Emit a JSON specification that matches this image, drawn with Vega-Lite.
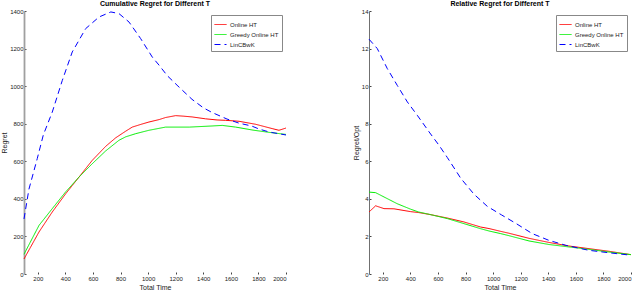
{
  "$schema": "https://vega.github.io/schema/vega-lite/v6.json",
  "background": "white",
  "padding": {"left": 0, "top": 0, "right": 1, "bottom": 0},
  "datasets": {
    "cum": [
      {"T": 100, "method": "Online HT", "v": 80},
      {"T": 209, "method": "Online HT", "v": 224},
      {"T": 305, "method": "Online HT", "v": 330},
      {"T": 402, "method": "Online HT", "v": 427},
      {"T": 499, "method": "Online HT", "v": 516},
      {"T": 595, "method": "Online HT", "v": 605},
      {"T": 693, "method": "Online HT", "v": 680},
      {"T": 765, "method": "Online HT", "v": 725},
      {"T": 837, "method": "Online HT", "v": 760},
      {"T": 885, "method": "Online HT", "v": 782},
      {"T": 950, "method": "Online HT", "v": 797},
      {"T": 1006, "method": "Online HT", "v": 809},
      {"T": 1080, "method": "Online HT", "v": 822},
      {"T": 1127, "method": "Online HT", "v": 833},
      {"T": 1200, "method": "Online HT", "v": 843},
      {"T": 1260, "method": "Online HT", "v": 840},
      {"T": 1320, "method": "Online HT", "v": 836},
      {"T": 1417, "method": "Online HT", "v": 826},
      {"T": 1500, "method": "Online HT", "v": 820},
      {"T": 1562, "method": "Online HT", "v": 818},
      {"T": 1659, "method": "Online HT", "v": 813},
      {"T": 1780, "method": "Online HT", "v": 797},
      {"T": 1900, "method": "Online HT", "v": 774},
      {"T": 1949, "method": "Online HT", "v": 765},
      {"T": 2000, "method": "Online HT", "v": 777},
      {"T": 100, "method": "Greedy Online HT", "v": 105},
      {"T": 209, "method": "Greedy Online HT", "v": 259},
      {"T": 305, "method": "Greedy Online HT", "v": 348},
      {"T": 402, "method": "Greedy Online HT", "v": 437},
      {"T": 499, "method": "Greedy Online HT", "v": 516},
      {"T": 595, "method": "Greedy Online HT", "v": 587},
      {"T": 692, "method": "Greedy Online HT", "v": 655},
      {"T": 789, "method": "Greedy Online HT", "v": 712},
      {"T": 837, "method": "Greedy Online HT", "v": 730},
      {"T": 910, "method": "Greedy Online HT", "v": 747},
      {"T": 1006, "method": "Greedy Online HT", "v": 765},
      {"T": 1127, "method": "Greedy Online HT", "v": 782},
      {"T": 1300, "method": "Greedy Online HT", "v": 782},
      {"T": 1465, "method": "Greedy Online HT", "v": 788},
      {"T": 1538, "method": "Greedy Online HT", "v": 791},
      {"T": 1635, "method": "Greedy Online HT", "v": 782},
      {"T": 1760, "method": "Greedy Online HT", "v": 766},
      {"T": 1877, "method": "Greedy Online HT", "v": 754},
      {"T": 2000, "method": "Greedy Online HT", "v": 743},
      {"T": 100, "method": "LinCBwK", "v": 293},
      {"T": 136, "method": "LinCBwK", "v": 452},
      {"T": 196, "method": "LinCBwK", "v": 614},
      {"T": 240, "method": "LinCBwK", "v": 740},
      {"T": 305, "method": "LinCBwK", "v": 862},
      {"T": 378, "method": "LinCBwK", "v": 1031},
      {"T": 450, "method": "LinCBwK", "v": 1182},
      {"T": 547, "method": "LinCBwK", "v": 1306},
      {"T": 644, "method": "LinCBwK", "v": 1368},
      {"T": 730, "method": "LinCBwK", "v": 1395},
      {"T": 789, "method": "LinCBwK", "v": 1386},
      {"T": 862, "method": "LinCBwK", "v": 1341},
      {"T": 946, "method": "LinCBwK", "v": 1253},
      {"T": 1030, "method": "LinCBwK", "v": 1155},
      {"T": 1079, "method": "LinCBwK", "v": 1112},
      {"T": 1140, "method": "LinCBwK", "v": 1055},
      {"T": 1210, "method": "LinCBwK", "v": 1005},
      {"T": 1318, "method": "LinCBwK", "v": 930},
      {"T": 1400, "method": "LinCBwK", "v": 885},
      {"T": 1463, "method": "LinCBwK", "v": 860},
      {"T": 1572, "method": "LinCBwK", "v": 825},
      {"T": 1659, "method": "LinCBwK", "v": 803},
      {"T": 1750, "method": "LinCBwK", "v": 788},
      {"T": 1804, "method": "LinCBwK", "v": 772},
      {"T": 1877, "method": "LinCBwK", "v": 756},
      {"T": 2000, "method": "LinCBwK", "v": 740}
    ],
    "rel": [
      {"T": 100, "method": "Online HT", "v": 3.3},
      {"T": 148, "method": "Online HT", "v": 3.63},
      {"T": 209, "method": "Online HT", "v": 3.48},
      {"T": 281, "method": "Online HT", "v": 3.47},
      {"T": 402, "method": "Online HT", "v": 3.32},
      {"T": 460, "method": "Online HT", "v": 3.27},
      {"T": 547, "method": "Online HT", "v": 3.16},
      {"T": 668, "method": "Online HT", "v": 2.98},
      {"T": 789, "method": "Online HT", "v": 2.77},
      {"T": 910, "method": "Online HT", "v": 2.5},
      {"T": 970, "method": "Online HT", "v": 2.42},
      {"T": 1055, "method": "Online HT", "v": 2.27},
      {"T": 1115, "method": "Online HT", "v": 2.17},
      {"T": 1260, "method": "Online HT", "v": 1.9},
      {"T": 1405, "method": "Online HT", "v": 1.68},
      {"T": 1550, "method": "Online HT", "v": 1.49},
      {"T": 1695, "method": "Online HT", "v": 1.35},
      {"T": 1840, "method": "Online HT", "v": 1.21},
      {"T": 2000, "method": "Online HT", "v": 1.03},
      {"T": 100, "method": "Greedy Online HT", "v": 4.36},
      {"T": 148, "method": "Greedy Online HT", "v": 4.33},
      {"T": 209, "method": "Greedy Online HT", "v": 4.1},
      {"T": 305, "method": "Greedy Online HT", "v": 3.74},
      {"T": 402, "method": "Greedy Online HT", "v": 3.45},
      {"T": 460, "method": "Greedy Online HT", "v": 3.3},
      {"T": 523, "method": "Greedy Online HT", "v": 3.2},
      {"T": 668, "method": "Greedy Online HT", "v": 2.95},
      {"T": 789, "method": "Greedy Online HT", "v": 2.68},
      {"T": 910, "method": "Greedy Online HT", "v": 2.41},
      {"T": 970, "method": "Greedy Online HT", "v": 2.29},
      {"T": 1055, "method": "Greedy Online HT", "v": 2.15},
      {"T": 1115, "method": "Greedy Online HT", "v": 2.04},
      {"T": 1260, "method": "Greedy Online HT", "v": 1.76},
      {"T": 1405, "method": "Greedy Online HT", "v": 1.57},
      {"T": 1550, "method": "Greedy Online HT", "v": 1.44},
      {"T": 1695, "method": "Greedy Online HT", "v": 1.31},
      {"T": 1840, "method": "Greedy Online HT", "v": 1.17},
      {"T": 2000, "method": "Greedy Online HT", "v": 1.03},
      {"T": 100, "method": "LinCBwK", "v": 12.5},
      {"T": 160, "method": "LinCBwK", "v": 12.0},
      {"T": 233, "method": "LinCBwK", "v": 10.93},
      {"T": 305, "method": "LinCBwK", "v": 10.04},
      {"T": 378, "method": "LinCBwK", "v": 9.16},
      {"T": 450, "method": "LinCBwK", "v": 8.45},
      {"T": 547, "method": "LinCBwK", "v": 7.45},
      {"T": 608, "method": "LinCBwK", "v": 6.85},
      {"T": 668, "method": "LinCBwK", "v": 6.2},
      {"T": 765, "method": "LinCBwK", "v": 5.1},
      {"T": 861, "method": "LinCBwK", "v": 4.25},
      {"T": 958, "method": "LinCBwK", "v": 3.6},
      {"T": 1060, "method": "LinCBwK", "v": 3.15},
      {"T": 1164, "method": "LinCBwK", "v": 2.7},
      {"T": 1284, "method": "LinCBwK", "v": 2.15},
      {"T": 1405, "method": "LinCBwK", "v": 1.79},
      {"T": 1526, "method": "LinCBwK", "v": 1.53},
      {"T": 1695, "method": "LinCBwK", "v": 1.26},
      {"T": 1840, "method": "LinCBwK", "v": 1.13},
      {"T": 2000, "method": "LinCBwK", "v": 1.0}
    ]
  },
  "spacing": 83,
  "bounds": "flush",
  "hconcat": [
    {
      "width": 262,
      "height": 263,
      "title": "Cumulative Regret for Different T",
      "data": {"name": "cum"},
      "mark": {"type": "line", "strokeWidth": 1},
      "encoding": {
        "x": {"field": "T", "type": "quantitative", "title": "Total Time",
              "scale": {"domain": [100, 2000], "nice": false, "zero": false},
              "axis": {"values": [200, 400, 600, 800, 1000, 1200, 1400, 1600, 1800, 2000], "format": "d"}},
        "y": {"field": "v", "type": "quantitative", "title": "Regret",
              "scale": {"domain": [0, 1400], "nice": false},
              "axis": {"values": [0, 200, 400, 600, 800, 1000, 1200, 1400], "format": "d", "domainColor": "#a0a0a0", "domainWidth": 1.8}},
        "color": {"field": "method", "type": "nominal",
                  "scale": {"domain": ["Online HT", "Greedy Online HT", "LinCBwK"], "range": ["#ff0000", "#00ee00", "#0000ff"]},
                  "legend": {"title": null}},
        "strokeDash": {"field": "method", "type": "nominal",
                  "scale": {"domain": ["Online HT", "Greedy Online HT", "LinCBwK"], "range": [[1, 0], [1, 0], [6, 4]]},
                  "legend": {"title": null}}
      }
    },
    {
      "width": 262,
      "height": 263,
      "title": "Relative Regret for Different T",
      "data": {"name": "rel"},
      "mark": {"type": "line", "strokeWidth": 1},
      "encoding": {
        "x": {"field": "T", "type": "quantitative", "title": "Total Time",
              "scale": {"domain": [100, 2000], "nice": false, "zero": false},
              "axis": {"values": [200, 400, 600, 800, 1000, 1200, 1400, 1600, 1800, 2000], "format": "d"}},
        "y": {"field": "v", "type": "quantitative", "title": "Regret/Opt",
              "scale": {"domain": [0, 14], "nice": false},
              "axis": {"values": [0, 2, 4, 6, 8, 10, 12, 14], "format": "d", "domainColor": "#707070", "domainWidth": 1}},
        "color": {"field": "method", "type": "nominal",
                  "scale": {"domain": ["Online HT", "Greedy Online HT", "LinCBwK"], "range": ["#ff0000", "#00ee00", "#0000ff"]},
                  "legend": {"title": null}},
        "strokeDash": {"field": "method", "type": "nominal",
                  "scale": {"domain": ["Online HT", "Greedy Online HT", "LinCBwK"], "range": [[1, 0], [1, 0], [6, 4]]},
                  "legend": {"title": null}}
      }
    }
  ],
  "resolve": {
    "scale": {"x": "independent", "y": "independent", "color": "independent", "strokeDash": "independent"},
    "legend": {"color": "independent", "strokeDash": "independent"}
  },
  "config": {
    "view": {"stroke": null},
    "font": "Liberation Sans",
    "title": {"fontSize": 7, "fontWeight": "bold", "offset": 1, "color": "#000000", "anchor": "middle"},
    "axis": {
      "grid": false,
      "labelFontSize": 6,
      "labelColor": "#222222",
      "titleFontSize": 7,
      "titleFontWeight": "normal",
      "titleColor": "#222222",
      "tickSize": -2,
      "tickColor": "#444444",
      "labelPadding": 3,
      "titlePadding": 2
    },
    "axisX": {"domain": false},
    "legend": {
      "orient": "top-right",
      "offset": 4,
      "fillColor": "white",
      "strokeColor": "#888888",
      "padding": 3,
      "labelFontSize": 6,
      "labelColor": "#222222",
      "symbolType": "stroke",
      "symbolSize": 144,
      "symbolStrokeWidth": 1,
      "rowPadding": -4,
      "labelOffset": 3
    }
  }
}
